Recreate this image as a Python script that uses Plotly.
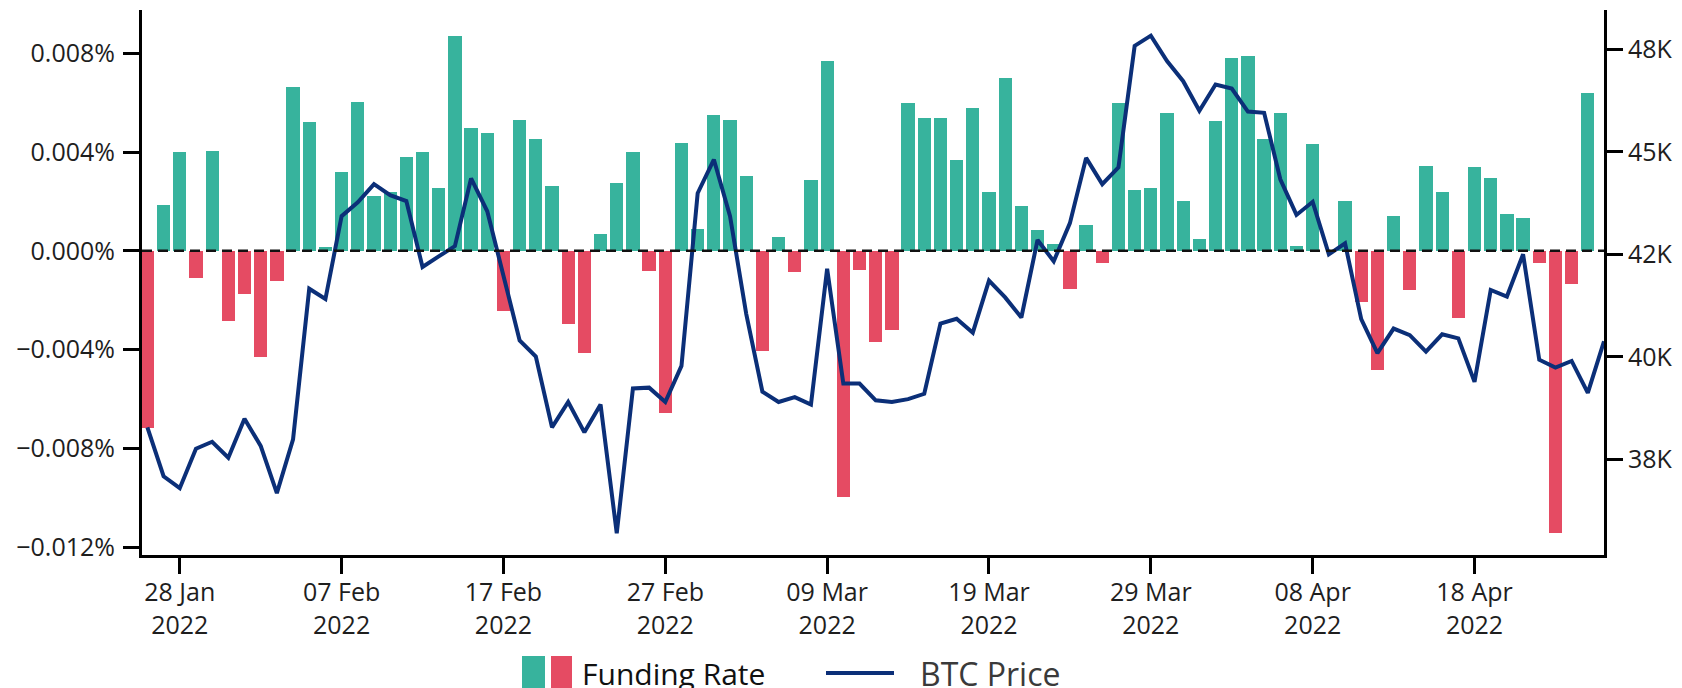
import pandas as pd
import plotly.graph_objects as go

# ---------------- data ----------------
bar_dates = pd.date_range("2022-01-26", "2022-04-25", freq="D")
funding_rate = [  # percent
    -0.00718, 0.00185, 0.00400, -0.00111, 0.00404, -0.00284, -0.00177, -0.00430, -0.00123, 0.00663,
    0.00521, 0.00016, 0.00319, 0.00601, 0.00223, 0.00237, 0.00379, 0.00400, 0.00255, 0.00871,
    0.00496, 0.00477, -0.00242, 0.00530, 0.00452, 0.00262, -0.00297, -0.00416, 0.00066, 0.00274,
    0.00399, -0.00081, -0.00656, 0.00437, 0.00090, 0.00552, 0.00529, 0.00304, -0.00407, 0.00056,
    -0.00085, 0.00286, 0.00767, -0.00996, -0.00077, -0.00371, -0.00321, 0.00600, 0.00536, 0.00536,
    0.00366, 0.00579, 0.00240, 0.00700, 0.00182, 0.00086, 0.00029, -0.00156, 0.00104, -0.00051,
    0.00597, 0.00248, 0.00255, 0.00558, 0.00200, 0.00049, 0.00525, 0.00782, 0.00789, 0.00452,
    0.00560, 0.00019, 0.00432, 0.00000, 0.00200, -0.00208, -0.00484, 0.00142, -0.00158, 0.00344,
    0.00237, -0.00273, 0.00338, 0.00296, 0.00151, 0.00132, -0.00051, -0.01142, -0.00133, 0.00638,
]
price_dates = pd.date_range("2022-01-26", "2022-04-26", freq="D")
btc_price = [  # USD
    38280, 37090, 36800, 37760, 37930, 37540, 38490, 37830, 36680, 37990,
    41660, 41410, 43430, 43770, 44210, 43940, 43800, 42190, 42450, 42700,
    44350, 43550, 41980, 40400, 40010, 38280, 38900, 38160, 38840, 35700,
    39230, 39250, 38900, 39780, 43990, 44810, 43430, 41050, 39150, 38900,
    39020, 38840, 42150, 39350, 39350, 38940, 38900, 38970, 39100, 40810,
    40930, 40590, 41860, 41450, 40960, 42850, 42330, 43260, 44850, 44210,
    44620, 47580, 47830, 47210, 46720, 46000, 46640, 46540, 45980, 45950,
    44330, 43460, 43780, 42500, 42770, 40920, 40090, 40690, 40530, 40130,
    40550, 40450, 39390, 41630, 41470, 42500, 39930, 39740, 39900, 39120,
    40380,
]
x_tick_dates = pd.date_range("2022-01-28", "2022-04-18", freq="10D")
x_tick_text = ["28 Jan<br>2022", "07 Feb<br>2022", "17 Feb<br>2022", "27 Feb<br>2022",
               "09 Mar<br>2022", "19 Mar<br>2022", "29 Mar<br>2022", "08 Apr<br>2022",
               "18 Apr<br>2022"]
rate_ticks = [-0.012, -0.008, -0.004, 0.0, 0.004, 0.008]
rate_tick_text = ["\u22120.012%", "\u22120.008%", "\u22120.004%", "0.000%", "0.004%", "0.008%"]
price_ticks = [37500, 40000, 42500, 45000, 47500]
price_tick_text = ["38K", "40K", "42K", "45K", "48K"]
series_names = ["Funding Rate", "BTC Price"]

# ---------------- style ----------------
GREEN = "#37B39D"
RED = "#E54B63"
NAVY = "#0B2F78"
FONT = "Open Sans"
TICKCOL = "#1e1e1e"

OFF = 8                     # page body margin
W, H = 1682 - OFF, 688 - OFF
L, R, T, B = 134, 78, 2, 133
pw, ph = W - L - R, H - T - B


def px_x(page_x):
    return (page_x - OFF - L) / pw


def px_y(page_y):
    return (H - B - (page_y - OFF)) / ph


colors = [GREEN if v >= 0 else RED for v in funding_rate]

fig = go.Figure()
fig.add_trace(go.Bar(
    x=bar_dates, y=funding_rate, marker=dict(color=colors, line=dict(width=0)),
    width=0.82 * 86400000, name=series_names[0], showlegend=False, yaxis="y",
))
fig.add_trace(go.Scatter(
    x=price_dates, y=btc_price, mode="lines", line=dict(color=NAVY, width=4),
    name=series_names[1], showlegend=False, yaxis="y2",
))

axis_common = dict(
    showline=True, linewidth=3, linecolor="black", ticks="outside", ticklen=16,
    tickwidth=2.5, tickcolor="black", showgrid=False, zeroline=False,
    tickfont=dict(family=FONT, size=25, color=TICKCOL),
)

fig.update_layout(
    width=W, height=H,
    margin=dict(l=L, r=R, t=T, b=B, pad=0),
    plot_bgcolor="white", paper_bgcolor="white",
    bargap=0,
    xaxis=dict(
        type="date", range=["2022-01-25 16:00", "2022-04-26 00:00"],
        tickmode="array", tickvals=list(x_tick_dates), ticktext=x_tick_text,
        ticklabelstandoff=-3, **axis_common,
    ),
    yaxis=dict(
        range=[-0.012324, 0.009754], tickmode="array", tickvals=rate_ticks,
        ticktext=rate_tick_text, ticklabelstandoff=3, **axis_common,
    ),
    yaxis2=dict(
        overlaying="y", side="right", range=[35170, 48456], tickmode="array",
        tickvals=price_ticks, ticktext=price_tick_text, ticklabelstandoff=0,
        **axis_common,
    ),
    shapes=[
        dict(type="line", xref="paper", x0=0, x1=1, yref="y", y0=0, y1=0,
             line=dict(color="#111111", width=2.5, dash="10px,6px"), layer="above"),
        # legend symbols
        dict(type="rect", xref="paper", yref="paper", x0=px_x(522), x1=px_x(545),
             y0=px_y(690), y1=px_y(656), fillcolor=GREEN, line=dict(width=0)),
        dict(type="rect", xref="paper", yref="paper", x0=px_x(551), x1=px_x(572),
             y0=px_y(690), y1=px_y(656), fillcolor=RED, line=dict(width=0)),
        dict(type="line", xref="paper", yref="paper", x0=px_x(826), x1=px_x(894),
             y0=px_y(673), y1=px_y(673), line=dict(color=NAVY, width=4)),
    ],
    annotations=[
        dict(text=series_names[0], xref="paper", yref="paper", x=px_x(580), y=px_y(673),
             xanchor="left", yanchor="middle", showarrow=False,
             font=dict(family=FONT, size=30, color="#111111")),
        dict(text=series_names[1], xref="paper", yref="paper", x=px_x(918), y=px_y(673),
             xanchor="left", yanchor="middle", showarrow=False,
             font=dict(family=FONT, size=32, color="#3a3a3a")),
    ],
)

fig.write_html("out.html")
